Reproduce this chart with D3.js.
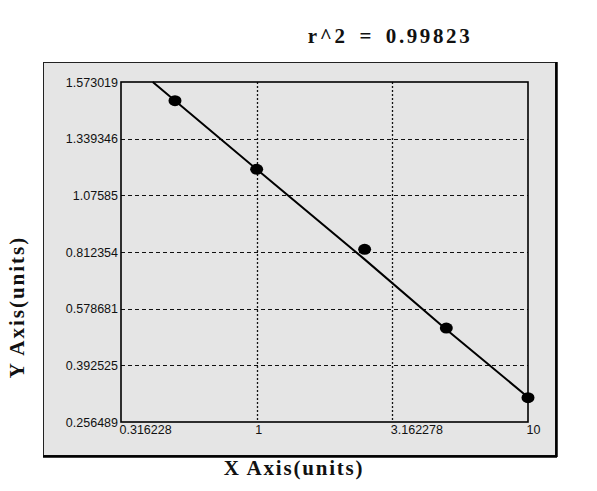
<!DOCTYPE html>
<html>
<head>
<meta charset="utf-8">
<script src="https://cdn.jsdelivr.net/npm/d3@7"></script>
<style>
  body { margin: 0; background: #fff; }
  .tick text { font-family: "Liberation Sans", Arial, sans-serif; font-size: 12.5px; fill: #111; }
  .title, .axis-title { font-family: "Liberation Serif", "Times New Roman", serif; font-weight: bold; fill: #111; }
</style>
</head>
<body>
<svg class="chart"></svg>
<script>
// standard curve points
var xValues = [0.5, 1, 2.5, 5, 10];
var yValues = [1.496, 1.197, 0.825, 0.515, 0.315];

// fitted line
var fitX = [0.414, 1, 2.5, 5, 10];
var fitY = [1.573019, 1.197, 0.782, 0.510, 0.316];

var xTicks = [0.316228, 1, 3.162278, 10];
var xTickLabels = ['0.316228', '1', '3.162278', '10'];
var yTicks = [0.256489, 0.392525, 0.578681, 0.812354, 1.07585, 1.339346, 1.573019];
var yTickLabels = ['0.256489', '0.392525', '0.578681', '0.812354', '1.07585', '1.339346', '1.573019'];

var rSquared = '0.99823';

(function() {
  'use strict';
var margin = {top: 82, right: 69, bottom: 69, left: 121},
    width = 597 - margin.left - margin.right,
    height = 491 - margin.top - margin.bottom;

var svg = d3.select('.chart')
    .attr('width', 597)
    .attr('height', 491);

// grey panel behind everything
svg.append('rect')
    .attr('x', 43.5)
    .attr('y', 62.5)
    .attr('width', 512)
    .attr('height', 393)
    .style('fill', '#e5e5e5')
    .style('stroke', '#222')
    .style('stroke-width', 1);
svg.append('path')
    .attr('d', 'M556.5,62V457M43,456.5H557')
    .style('stroke', '#000')
    .style('stroke-width', 2.5)
    .style('fill', 'none');

var x = d3.scaleLog()
    .domain([xTicks[0], xTicks[xTicks.length - 1]])
    .range([0, width]);

// ticks are evenly spaced on screen, so the scale is piecewise
var y = d3.scaleLinear()
    .domain(yTicks)
    .range(yTicks.map(function(d, i) { return height - i * height / (yTicks.length - 1); }));

var chart = svg.append('g')
    .attr('transform', 'translate(' + margin.left + ',' + margin.top + ')');

// grid
chart.append('g')
    .attr('class', 'grid')
    .selectAll('line.h')
    .data(yTicks.slice(1, -1))
  .enter().append('line')
    .attr('x1', 0)
    .attr('x2', width)
    .attr('y1', function(d) { return Math.round(y(d)) + 0.5; })
    .attr('y2', function(d) { return Math.round(y(d)) + 0.5; })
    .style('stroke', '#111')
    .style('stroke-dasharray', '4,3');

chart.append('g')
    .attr('class', 'grid')
    .selectAll('line.v')
    .data(xTicks.slice(1, -1))
  .enter().append('line')
    .attr('x1', function(d) { return Math.round(x(d)) + 0.5; })
    .attr('x2', function(d) { return Math.round(x(d)) + 0.5; })
    .attr('y1', 0)
    .attr('y2', height)
    .style('stroke', '#111')
    .style('stroke-width', 1.3)
    .style('stroke-dasharray', '2,2');

var xAxis = d3.axisBottom(x)
    .tickValues(xTicks)
    .tickSize(0)
    .tickPadding(3)
    .tickFormat(function(d, i) { return xTickLabels[i]; });

var yAxis = d3.axisLeft(y)
    .tickValues(yTicks)
    .tickSize(0)
    .tickPadding(3)
    .tickFormat(function(d, i) { return yTickLabels[i]; });

var gx = chart.append('g')
    .attr('class', 'x axis')
    .attr('transform', 'translate(0,' + height + ')')
    .call(xAxis);
gx.select('.domain').remove();
gx.selectAll('.tick text')
    .attr('text-anchor', 'start')
    .attr('x', -2);

var gy = chart.append('g')
    .attr('class', 'y axis')
    .call(yAxis);
gy.select('.domain').remove();

// plot frame
chart.append('rect')
    .attr('width', width)
    .attr('height', height)
    .style('fill', 'none')
    .style('stroke', '#000')
    .style('stroke-width', 1.6);

// fit line
var line = d3.line()
    .x(function(d) { return x(d[0]); })
    .y(function(d) { return y(d[1]); });

chart.append('path')
    .datum(d3.zip(fitX, fitY))
    .attr('d', line)
    .style('fill', 'none')
    .style('stroke', '#000')
    .style('stroke-width', 2);

chart.selectAll('.dot')
    .data(d3.zip(xValues, yValues))
  .enter().append('ellipse')
    .attr('class', 'dot')
    .attr('cx', function(d) { return x(d[0]); })
    .attr('cy', function(d) { return y(d[1]); })
    .attr('rx', 6.5)
    .attr('ry', 5.5)
    .style('fill', '#000');

// texts
svg.append('text')
    .attr('class', 'title')
    .attr('x', 390)
    .attr('y', 43)
    .attr('text-anchor', 'middle')
    .style('font-size', '21px')
    .style('letter-spacing', '2.6px')
    .style('word-spacing', '4px')
    .text('r^2 = ' + rSquared);

svg.append('text')
    .attr('class', 'axis-title')
    .attr('x', 294)
    .attr('y', 475)
    .attr('text-anchor', 'middle')
    .style('font-size', '21px')
    .style('letter-spacing', '1.8px')
    .text('X Axis(units)');

svg.append('text')
    .attr('class', 'axis-title')
    .attr('transform', 'translate(24,307) rotate(-90)')
    .attr('text-anchor', 'middle')
    .style('font-size', '21px')
    .style('letter-spacing', '2px')
    .text('Y Axis(units)');
}());
</script>
</body>
</html>
